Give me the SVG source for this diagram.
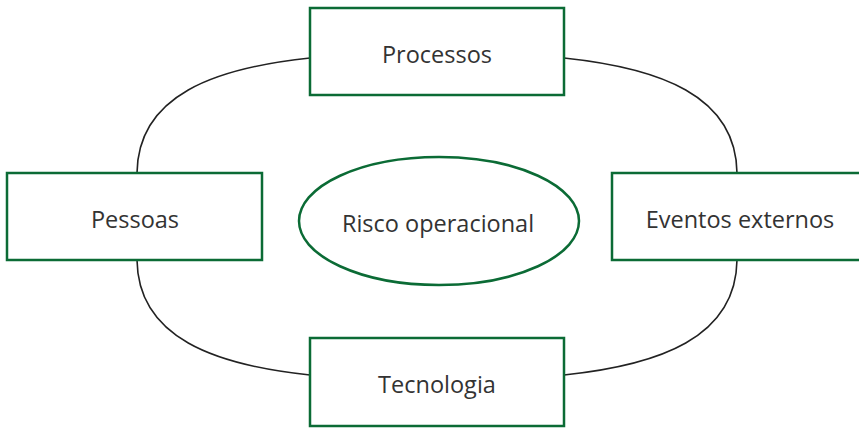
<svg xmlns="http://www.w3.org/2000/svg" width="859" height="428" viewBox="0 0 859 428">
<style>
.box{fill:#fff;stroke:#0b6b35;stroke-width:2.5}
.lbl{font-family:"Open Sans","Noto Sans","Liberation Sans",sans-serif;font-size:23.5px;fill:#333;text-anchor:middle}
.con{fill:none;stroke:#222;stroke-width:1.6}
</style>
<rect width="859" height="428" fill="#fff"/>
<g id="connectors">
<path class="con" d="M137,173 C138,95 215,68 310,58"/>
<path class="con" d="M737,173 C736,95 659,68 564,58"/>
<path class="con" d="M137,260 C138,338 215,365 310,375"/>
<path class="con" d="M737,260 C736,338 659,365 564,375"/>
</g>
<g id="processos">
<rect class="box" x="310" y="8" width="254" height="87"/>
<text class="lbl" x="437" y="63">Processos</text>
</g>
<g id="pessoas">
<rect class="box" x="7" y="173" width="255" height="87"/>
<text class="lbl" x="135" y="228">Pessoas</text>
</g>
<g id="risco">
<ellipse cx="439" cy="221" rx="140" ry="64" fill="#fff" stroke="#0b6b35" stroke-width="2.5"/>
<text class="lbl" x="438" y="232">Risco operacional</text>
</g>
<g id="eventos">
<rect class="box" x="612" y="173" width="252" height="87"/>
<text class="lbl" x="740" y="228">Eventos externos</text>
</g>
<g id="tecnologia">
<rect class="box" x="310" y="338" width="254" height="88"/>
<text class="lbl" x="437" y="393">Tecnologia</text>
</g>
</svg>
